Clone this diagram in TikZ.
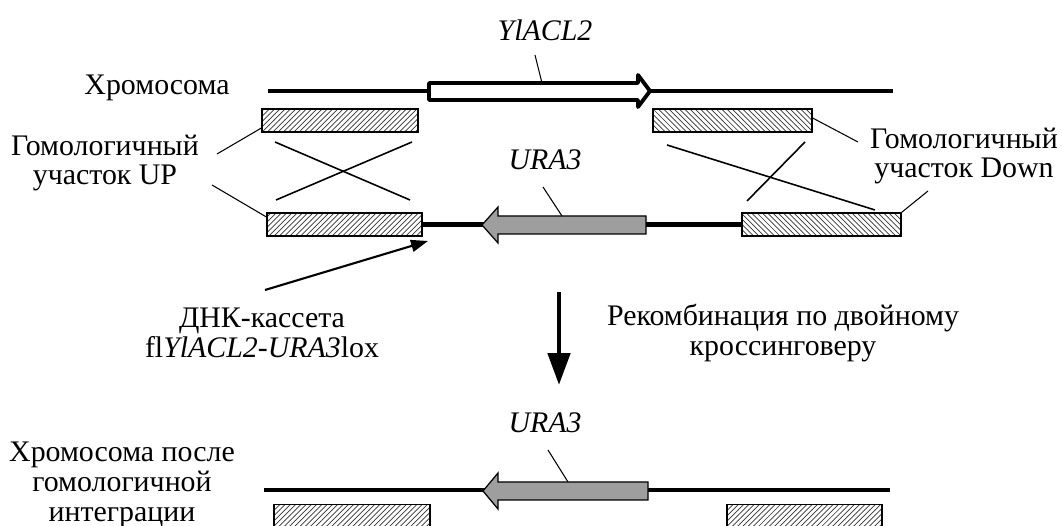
\documentclass[tikz,border=0pt]{standalone}
\usepackage{fontspec}
\setmainfont{Liberation Serif}
\usetikzlibrary{patterns,arrows.meta}

\tikzset{
  chrom/.style={line width=2.8pt},
  hatchbox/.style={draw, line width=0.7pt, pattern=north east lines,
    pattern color=black!80, inner sep=0pt, minimum height=0.46cm},
  hatchboxr/.style={hatchbox, pattern=north west lines},
  gene/.style={draw, line width=0.7pt, fill=black!38, line join=miter},
  leader/.style={line width=0.6pt},
  crossline/.style={line width=0.9pt},
  lbl/.style={align=center, font=\fontsize{17}{17}\selectfont, inner sep=0pt},
}

\begin{document}
\begin{tikzpicture}[x=0.02cm,y=-0.02cm]
  \useasboundingbox (0,0) rectangle (1062,526);

  % labels
  \node[lbl] (chromLbl) at (157,88) {Хромосома};
  \node[lbl] (ylaclLbl) at (545,30) {\itshape YlACL2};
  \node[lbl] (upLbl) at (105,163) {Гомологичный\\участок UP};
  \node[lbl] (downLbl) at (964,156) {Гомологичный\\участок Down};
  \node[lbl] (uraLbl) at (545,160) {\itshape URA3};
  \node[lbl] (cassLbl) at (262,333) {ДНК-кассета\\fl\textit{YlACL2-URA3}lox};
  \node[lbl] (recLbl) at (783,333) {Рекомбинация по двойному\\кроссинговеру};
  \node[lbl] (uraLbl2) at (545,423) {\itshape URA3};
  \node[lbl] (afterLbl) at (122,485) {Хромосома после\\гомологичной\\интеграции};

  % chromosome
  \coordinate (chrA) at (268,91);
  \coordinate (chrB) at (893,91);
  \draw[chrom] (chrA) -- (chrB);
  \draw[line width=2.2pt, fill=white, line join=round]
    (429,83) -- (638,83) -- (638,75) -- (650,91) -- (638,107) -- (638,100)
    -- (429,100) -- cycle;
  \coordinate (ylacl) at (542,83);
  \node[hatchbox, minimum width=3.12cm] (upTop) at (340,120.5) {};
  \node[hatchboxr, minimum width=3.18cm] (downTop) at (732.5,120.5) {};

  % cassette
  \node[hatchbox, minimum width=3.10cm] (upCas) at (344.5,224.5) {};
  \node[hatchboxr, minimum width=3.18cm] (downCas) at (821.5,224.5) {};
  \draw[chrom] (upCas.east) -- (downCas.west);
  \draw[gene] (646,216) -- (498,216) -- (498,207) -- (482,225) -- (498,243)
    -- (498,234) -- (646,234) -- cycle;
  \coordinate (ura) at (562,216);

  % crossing over
  \begin{scope}[crossline]
    \draw (275,142) -- (410,200);
    \draw (276,200) -- (412,142);
    \draw (667,145) -- (875,210);
    \draw (805,142) -- (747,201);
  \end{scope}

  % leaders
  \coordinate (ylaclA) at (535,55);
  \coordinate (uraA) at (543,187);
  \coordinate (upA) at (217,154);
  \coordinate (upB) at (212,185);
  \coordinate (downA) at (858,142);
  \coordinate (downB) at (928,191);
  \coordinate (uraB) at (548,450);
  \begin{scope}[leader]
    \draw (ylaclA) -- (ylacl);
    \draw (uraA) -- (ura);
    \draw (upA) -- (upTop.west |- 0,128);
    \draw (upB) -- (upCas.west |- 0,217);
    \draw (downA) -- (downTop.east |- 0,118);
    \draw (downB) -- (downCas.north east);
    \draw (uraB) -- (568,482);
  \end{scope}

  % cassette arrow
  \coordinate (casA) at (265,290);
  \coordinate (casB) at (428,241);
  \draw[line width=1.2pt, -{Triangle[length=0.34cm,width=0.24cm]}] (casA) -- (casB);

  % recombination arrow
  \coordinate (recA) at (559,292);
  \coordinate (recB) at (559,385);
  \draw[chrom, -{Triangle[length=0.64cm,width=0.44cm]}] (recA) -- (recB);

  % after integration
  \coordinate (aftA) at (264,490);
  \coordinate (aftB) at (890,490);
  \draw[chrom] (aftA) -- (aftB);
  \draw[gene] (648,482) -- (498,482) -- (498,473) -- (483,491) -- (498,509)
    -- (498,500) -- (648,500) -- cycle;
  \node[hatchbox, minimum width=3.12cm] (upAft) at (352,516) {};
  \node[hatchbox, minimum width=3.10cm] (downAft) at (804.5,516) {};
\end{tikzpicture}
\end{document}
